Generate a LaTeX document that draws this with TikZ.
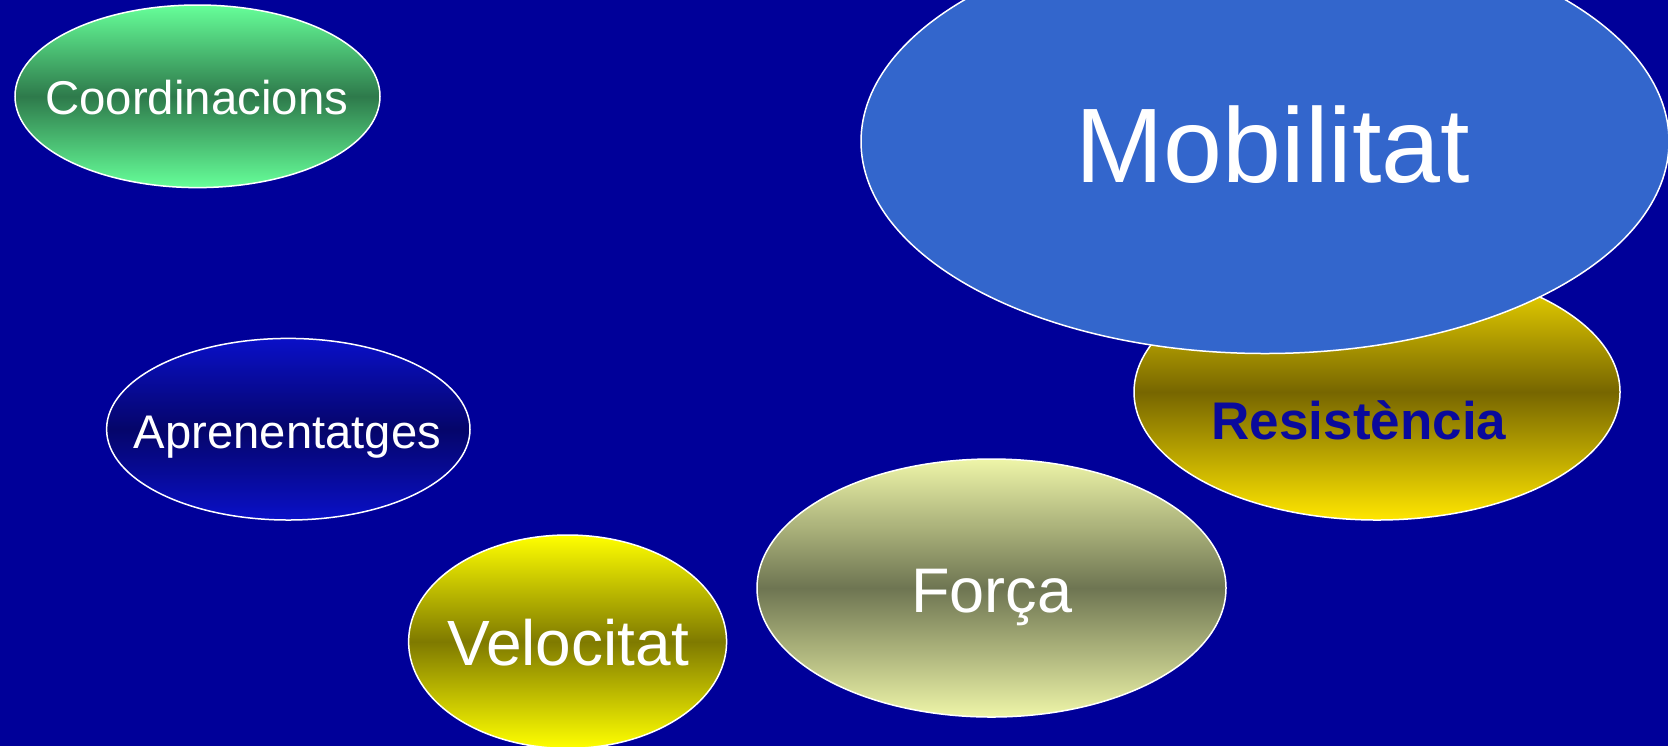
\documentclass[tikz,border=0pt]{standalone}
\usepackage{fontspec}
\setmainfont{Liberation Sans}
\usetikzlibrary{shapes.geometric}
\definecolor{bg}{HTML}{000099}
\definecolor{mob}{HTML}{3366CC}
\definecolor{grnL}{HTML}{66FF99}
\definecolor{grnD}{HTML}{2E7A4B}
\definecolor{bluL}{HTML}{0A10C8}
\definecolor{bluD}{HTML}{05056A}
\definecolor{yelL}{HTML}{FFFF00}
\definecolor{yelD}{HTML}{7F7A00}
\definecolor{palL}{HTML}{EEF5A8}
\definecolor{palD}{HTML}{6E7552}
\definecolor{golL}{HTML}{FFE600}
\definecolor{golD}{HTML}{776600}
\definecolor{restxt}{HTML}{0A0A9C}
\tikzset{
  blob/.style={ellipse, draw=white, line width=0.75pt, inner sep=0pt},
  lbl/.style={anchor=base, inner sep=0pt, text=white}
}
\begin{document}
\begin{tikzpicture}[x=0.5pt,y=-0.5pt]
\fill[bg] (0,0) rectangle (1668,746);
\useasboundingbox (0,0) rectangle (1668,746);
\clip (0,0) rectangle (1668,746);
% Coordinacions
\node[blob, minimum width=365pt/2, minimum height=182.6pt/2, top color=grnL, bottom color=grnL, middle color=grnD] (coord) at (197.5,96.3) {};
\node[lbl, font=\fontsize{23.7pt}{28pt}\selectfont] (coordt) at (196.7,114.5) {Coordinacions};
% Aprenentatges
\node[blob, minimum width=363.4pt/2, minimum height=181.6pt/2, top color=bluL, bottom color=bluL, middle color=bluD] (apren) at (288.3,429.2) {};
\node[lbl, font=\fontsize{23.6pt}{28pt}\selectfont] (aprent) at (287.5,448.3) {Aprenentatges};
% Velocitat
\node[blob, minimum width=318pt/2, minimum height=213.4pt/2, top color=yelL, bottom color=yelL, middle color=yelD] (velo) at (567.6,641.7) {};
\node[lbl, font=\fontsize{32pt}{36pt}\selectfont] (velot) at (568,665) {Velocitat};
% Forca
\node[blob, minimum width=469pt/2, minimum height=258pt/2, top color=palL, bottom color=palL, middle color=palD] (forca) at (991.5,588) {};
\node[lbl, font=\fontsize{31.5pt}{36pt}\selectfont] (forcat) at (991.6,612.7) {Força};
% Resistencia
\node[blob, minimum width=486pt/2, minimum height=256pt/2, top color=golL, bottom color=golL, middle color=golD] (resi) at (1377,392) {};
\node[lbl, text=restxt, font=\fontsize{26.5pt}{30pt}\selectfont\bfseries] (resit) at (1359,439.5) {Resistència};
% Mobilitat
\node[blob, minimum width=808pt/2, minimum height=424pt/2, fill=mob] (mobi) at (1265,141.5) {};
\node[lbl, font=\fontsize{53pt}{60pt}\selectfont] (mobit) at (1273,182.6) {Mobilitat};
\end{tikzpicture}
\end{document}
